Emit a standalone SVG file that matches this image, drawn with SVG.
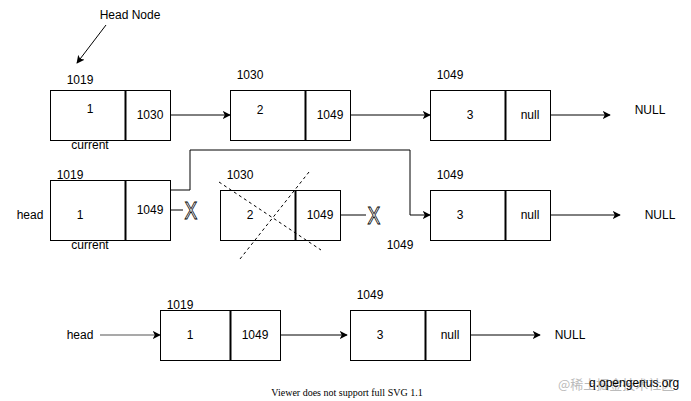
<svg xmlns="http://www.w3.org/2000/svg" width="691" height="401" viewBox="0 0 691 401">
<style>
text{font-family:"Liberation Sans",Arial,sans-serif;font-size:12px;fill:#000}
.c{text-anchor:middle}
.box{fill:#fff;stroke:#000;stroke-width:1}
.dv{stroke:#000;stroke-width:2}
.ln{fill:none;stroke:#000;stroke-width:1}
.x{font-size:24px;fill:#fff;stroke:#000;stroke-width:0.9;text-anchor:middle}
</style>
<defs>
<marker id="ah" viewBox="0 0 10 10" refX="9" refY="5" markerWidth="8" markerHeight="8" markerUnits="userSpaceOnUse" orient="auto">
<path d="M0,0 L10,5 L0,10 L2.5,5 Z" fill="#000"/>
</marker>
</defs>
<rect width="691" height="401" fill="#fff"/>
<g id="connectors">
<line class="ln" x1="106" y1="25" x2="77" y2="63" marker-end="url(#ah)"/>
<line class="ln" x1="170" y1="115" x2="230" y2="115" marker-end="url(#ah)"/>
<line class="ln" x1="350" y1="115" x2="430" y2="115" marker-end="url(#ah)"/>
<line class="ln" x1="550" y1="115" x2="610" y2="115" marker-end="url(#ah)"/>
<polyline class="ln" points="170,190 190,190 190,150 410,150 410,215 430,215" marker-end="url(#ah)"/>
<line class="ln" x1="170" y1="210" x2="183" y2="210"/>
<line class="ln" x1="340" y1="215" x2="366" y2="215"/>
<line class="ln" x1="550" y1="215" x2="620" y2="215" marker-end="url(#ah)"/>
<line x1="100" y1="335" x2="160" y2="335" stroke="#555" stroke-width="1.2" marker-end="url(#ah)"/>
<line class="ln" x1="281" y1="335" x2="347" y2="335" marker-end="url(#ah)"/>
<line class="ln" x1="471" y1="335" x2="540" y2="335" marker-end="url(#ah)"/>
</g>
<text class="c" x="130" y="19">Head Node</text>
<g id="node-r1-1019">
<rect class="box" x="50.5" y="90.5" width="75" height="50"/>
<rect class="box" x="125.5" y="90.5" width="45" height="50"/>
<line class="dv" x1="125.5" y1="90.5" x2="125.5" y2="140.5"/>
<text class="c" x="90" y="113">1</text>
<text class="c" x="150" y="119">1030</text>
<text class="c" x="80" y="84">1019</text>
<text class="c" x="90" y="149">current</text>
</g>
<g id="node-r1-1030">
<rect class="box" x="230.5" y="90.5" width="75" height="50"/>
<rect class="box" x="305.5" y="90.5" width="45" height="50"/>
<line class="dv" x1="305.5" y1="90.5" x2="305.5" y2="140.5"/>
<text class="c" x="260" y="114">2</text>
<text class="c" x="330" y="119">1049</text>
<text class="c" x="250" y="79">1030</text>
</g>
<g id="node-r1-1049">
<rect class="box" x="430.5" y="90.5" width="75" height="50"/>
<rect class="box" x="505.5" y="90.5" width="45" height="50"/>
<line class="dv" x1="505.5" y1="90.5" x2="505.5" y2="140.5"/>
<text class="c" x="470" y="119">3</text>
<text class="c" x="530" y="119">null</text>
<text class="c" x="450" y="79">1049</text>
</g>
<text class="c" x="650" y="114">NULL</text>
<g id="node-r2-1019">
<rect class="box" x="50.5" y="180.5" width="75" height="60"/>
<rect class="box" x="125.5" y="180.5" width="45" height="60"/>
<line class="dv" x1="125.5" y1="180.5" x2="125.5" y2="240.5"/>
<text class="c" x="80" y="219">1</text>
<text class="c" x="150" y="214">1049</text>
<text class="c" x="70" y="179">1019</text>
<text class="c" x="90" y="249">current</text>
<text class="c" x="30" y="219">head</text>
</g>
<text class="x" transform="translate(191,219) scale(0.8,1)" x="0" y="0">X</text>
<g id="node-r2-1030">
<rect class="box" x="220.5" y="190.5" width="75" height="50"/>
<rect class="box" x="295.5" y="190.5" width="45" height="50"/>
<line class="dv" x1="295.5" y1="190.5" x2="295.5" y2="240.5"/>
<text class="c" x="250" y="219">2</text>
<text class="c" x="320" y="219">1049</text>
<text class="c" x="240" y="179">1030</text>
<line x1="219" y1="182" x2="321" y2="250" stroke="#000" stroke-dasharray="3,3"/>
<line x1="309" y1="172" x2="240" y2="259" stroke="#000" stroke-dasharray="3,3"/>
</g>
<text class="x" transform="translate(374,224) scale(0.8,1)" x="0" y="0">X</text>
<text class="c" x="400" y="249">1049</text>
<g id="node-r2-1049">
<rect class="box" x="430.5" y="190.5" width="75" height="50"/>
<rect class="box" x="505.5" y="190.5" width="45" height="50"/>
<line class="dv" x1="505.5" y1="190.5" x2="505.5" y2="240.5"/>
<text class="c" x="460" y="219">3</text>
<text class="c" x="530" y="219">null</text>
<text class="c" x="450" y="179">1049</text>
</g>
<text class="c" x="660" y="219">NULL</text>
<text class="c" x="80" y="339">head</text>
<g id="node-r3-1019">
<rect class="box" x="160.5" y="310.5" width="70" height="50"/>
<rect class="box" x="230.5" y="310.5" width="50" height="50"/>
<line class="dv" x1="230.5" y1="310.5" x2="230.5" y2="360.5"/>
<text class="c" x="190" y="339">1</text>
<text class="c" x="255" y="339">1049</text>
<text class="c" x="180" y="309">1019</text>
</g>
<g id="node-r3-1049">
<rect class="box" x="350.5" y="310.5" width="75" height="50"/>
<rect class="box" x="425.5" y="310.5" width="45" height="50"/>
<line class="dv" x1="425.5" y1="310.5" x2="425.5" y2="360.5"/>
<text class="c" x="380" y="339">3</text>
<text class="c" x="450" y="339">null</text>
<text class="c" x="370" y="299">1049</text>
</g>
<text class="c" x="570" y="339">NULL</text>
<text x="558" y="389" style="fill:#bbb;font-family:'Noto Sans CJK SC',sans-serif;font-size:13px">@稀土掘金技术社区</text>
<text x="589" y="387">q.opengenus.org</text>
<text class="c" x="347" y="396" style="font-family:'Liberation Serif',serif;font-size:10px">Viewer does not support full SVG 1.1</text>
</svg>
